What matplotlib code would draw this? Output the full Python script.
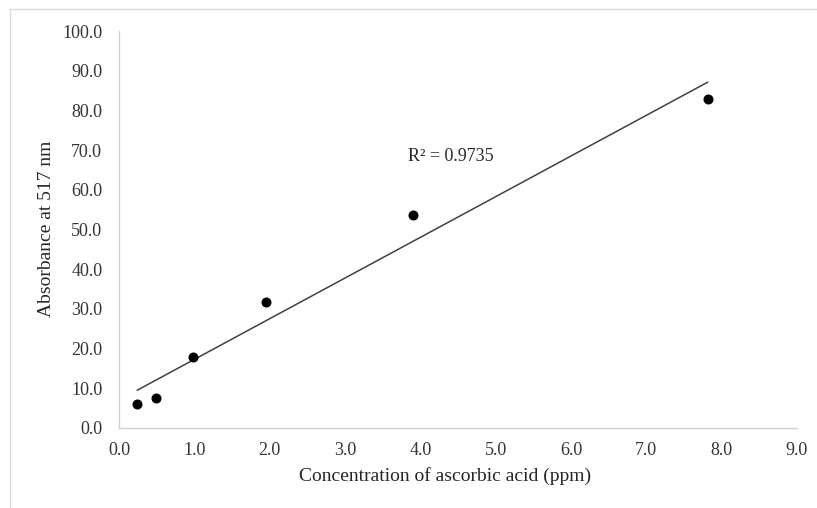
import numpy as np
import matplotlib.pyplot as plt
from matplotlib.lines import Line2D

# Data
conc = [0.244, 0.488, 0.977, 1.953, 3.906, 7.8125]
absorbance = [6.0, 7.5, 18.0, 31.8, 53.6, 82.9]
x_ticks = [0, 1, 2, 3, 4, 5, 6, 7, 8, 9]
y_ticks = [0, 10, 20, 30, 40, 50, 60, 70, 80, 90, 100]
r2_text = "R² = 0.9735"


def main():
    plt.rcParams['font.family'] = ['Liberation Serif', 'DejaVu Serif']
    W, H = 817, 508
    fig = plt.figure(figsize=(W / 100, H / 100), dpi=100)

    # plot area in pixels
    left, right, top, bottom = 119, 797, 31, 428
    ax = fig.add_axes([left / W, 1 - bottom / H, (right - left) / W, (bottom - top) / H])

    # linear trendline
    slope, intercept = np.polyfit(conc, absorbance, 1)
    xs = np.array([min(conc), max(conc)])
    ax.plot(xs, slope * xs + intercept, color='#404040', lw=1.1, zorder=2)

    ax.scatter(conc, absorbance, s=52, color='black', zorder=3, linewidths=0)

    ax.text(3.84, 68.3, r2_text, fontsize=13, va='center', ha='left', color='#262626')

    ax.set_xlim(0, 9)
    ax.set_ylim(0, 100)
    ax.set_xticks(x_ticks)
    ax.set_yticks(y_ticks)
    ax.set_xticklabels([f"{v:.1f}" for v in x_ticks])
    ax.set_yticklabels([f"{v:.1f}" for v in y_ticks])
    ax.tick_params(length=0, labelsize=13, colors='#333333')
    ax.tick_params(axis='y', pad=12)
    ax.tick_params(axis='x', pad=10)

    for s in ['top', 'right']:
        ax.spines[s].set_visible(False)
    for s in ['left', 'bottom']:
        ax.spines[s].set_color('#d0d0d0')
        ax.spines[s].set_linewidth(1.0)

    fig.text(445 / W, 1 - 476 / H, "Concentration of ascorbic acid (ppm)",
             fontsize=14, ha='center', va='center', color='#262626')
    fig.text(47 / W, 1 - 229 / H, "Absorbance at 517 nm", rotation=90,
             fontsize=14, ha='center', va='center', color='#262626')

    # outer chart frame (top and left edges visible)
    fig.add_artist(Line2D([10 / W, 1], [1 - 9 / H, 1 - 9 / H], color='#d9d9d9', lw=1))
    fig.add_artist(Line2D([10 / W, 10 / W], [0, 1 - 9 / H], color='#d9d9d9', lw=1))

    fig.savefig("out.png", dpi=100)


if __name__ == "__main__":
    main()
